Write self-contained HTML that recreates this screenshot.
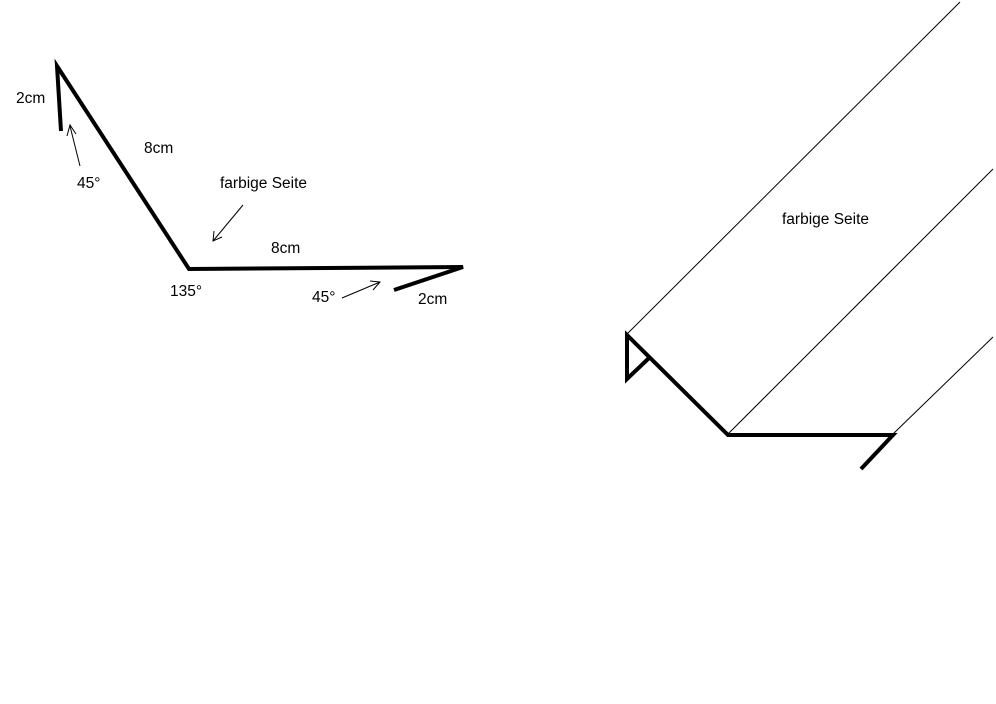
<!DOCTYPE html>
<html><head><meta charset="utf-8"><style>
html,body{margin:0;padding:0;background:#fff;width:996px;height:704px;overflow:hidden}
text{font-family:"Liberation Sans",Arial,sans-serif;font-size:15.5px;fill:#000}
</style></head><body>
<svg width="996" height="704" viewBox="0 0 996 704">
<g fill="none" stroke="#000" stroke-linejoin="miter">
<polyline points="61,131 57,66 189,269 463,267 394,290" stroke-width="4"/>
<line x1="80" y1="166" x2="70" y2="126" stroke-width="1"/>
<polyline points="67,136 70,125 76,134" stroke-width="1"/>
<line x1="243" y1="205" x2="213" y2="241" stroke-width="1"/>
<polyline points="214,231 213,241 222,237" stroke-width="1"/>
<line x1="342" y1="298" x2="380" y2="282" stroke-width="1"/>
<polyline points="370,281 380,282 373,290" stroke-width="1"/>
<line x1="627" y1="334" x2="960" y2="2" stroke-width="1"/>
<line x1="728" y1="434" x2="993" y2="169" stroke-width="1"/>
<line x1="893" y1="434" x2="993" y2="337" stroke-width="1"/>
<polyline points="649,358 627,379 627,335 728,435 893,435 861,469" stroke-width="4"/>
</g>
<text x="16" y="103">2cm</text>
<text x="144" y="153">8cm</text>
<text x="77" y="188">45°</text>
<text x="220" y="188">farbige Seite</text>
<text x="271" y="253">8cm</text>
<text x="170" y="296">135°</text>
<text x="312" y="302">45°</text>
<text x="418" y="304">2cm</text>
<text x="782" y="224">farbige Seite</text>
</svg>
</body></html>
